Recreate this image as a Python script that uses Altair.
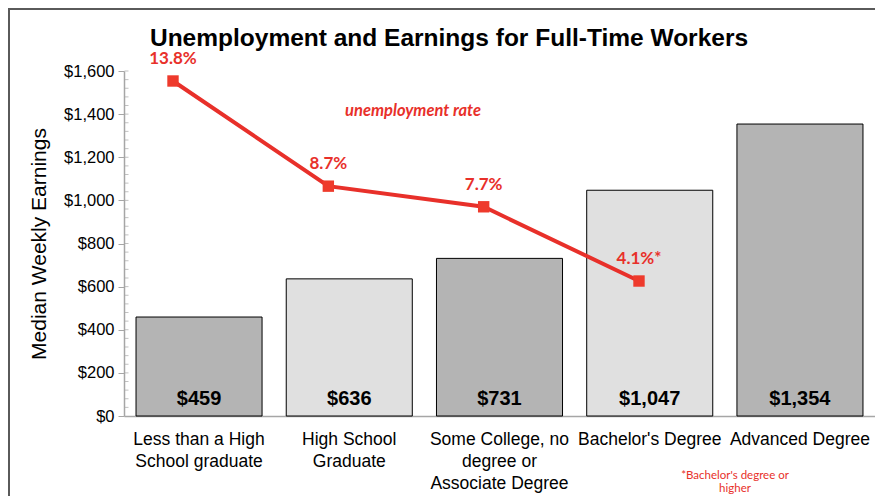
import altair as alt
import pandas as pd

# ---- data ----
categories = [
    "Less than a High\nSchool graduate",
    "High School\nGraduate",
    "Some College, no\ndegree or\nAssociate Degree",
    "Bachelor's Degree",
    "Advanced Degree",
]
earnings = [459, 636, 731, 1047, 1354]
shades = ["dark", "light", "dark", "light", "dark"]

rate_index = [0, 1, 2, 3]
rates = [13.8, 8.7, 7.7, 4.1]
rate_labels = ["13.8%", "8.7%", "7.7%", "4.1%*"]

y_major_ticks = list(range(0, 1601, 200))
y_minor_ticks = list(range(40, 1601, 40))

TITLE = "Unemployment and Earnings for Full-Time Workers"
RED = "#E8302A"
GRAY_AXIS = "#a6a6a6"

bars_df = pd.DataFrame({"category": categories, "earnings": earnings, "shade": shades})
bars_df["zero"] = 0
rate_df = pd.DataFrame({"idx": rate_index, "rate": rates, "label": rate_labels})
minor_df = pd.DataFrame({"v": y_minor_ticks})

EARN_SCALE = alt.Scale(domain=[0, 1600], nice=False, zero=False)
CAT_SCALE = alt.Scale(paddingInner=0.161, paddingOuter=0.08)

x_enc = alt.X(
    "category:N",
    sort=categories,
    scale=CAT_SCALE,
    axis=alt.Axis(
        title=None,
        labelAngle=0,
        labelExpr="split(datum.label, '\\n')",
        labelFont="Liberation Sans",
        labelFontSize=17.5,
        labelColor="#000000",
        labelLineHeight=22,
        labelPadding=14,
        labelBaseline="top",
        ticks=False,
        domainColor=GRAY_AXIS,
        domainWidth=1.5,
        labelLimit=300,
        grid=False,
    ),
)

y_enc = alt.Y(
    "earnings:Q",
    scale=EARN_SCALE,
    axis=alt.Axis(
        title="Median Weekly Earnings",
        titleFont="Liberation Sans",
        titleFontSize=21,
        titleFontWeight="normal",
        titleColor="#000000",
        titlePadding=14,
        values=y_major_ticks,
        format="$,.0f",
        labelFont="Liberation Sans",
        labelFontSize=16.5,
        labelColor="#000000",
        labelPadding=4,
        labelOverlap=False,
        labelFlush=False,
        tickSize=6,
        tickColor=GRAY_AXIS,
        domainColor=GRAY_AXIS,
        domainWidth=1.5,
        grid=False,
    ),
)

bars = alt.Chart(bars_df).mark_bar(stroke="#000000", strokeWidth=1).encode(
    x=x_enc,
    y=y_enc,
    color=alt.Color(
        "shade:N",
        scale=alt.Scale(domain=["dark", "light"], range=["#b4b4b4", "#e0e0e0"]),
        legend=None,
    ),
)

bar_text = alt.Chart(bars_df).mark_text(
    font="Liberation Sans", fontSize=20, fontWeight="bold", color="#000000",
    baseline="alphabetic", dy=-11,
).encode(
    x=alt.X("category:N", sort=categories, scale=CAT_SCALE, axis=None),
    y=alt.Y("zero:Q", scale=EARN_SCALE, axis=None),
    text=alt.Text("earnings:Q", format="$,.0f"),
)

minor_ticks = alt.Chart(minor_df).mark_tick(
    orient="horizontal", color=GRAY_AXIS, thickness=1, size=4
).encode(
    y=alt.Y("v:Q", scale=EARN_SCALE, axis=None),
    x=alt.value(2.5),
)

RATE_X = alt.Scale(domain=[-0.3155, 4.5194], nice=False, zero=False)
RATE_Y = alt.Scale(domain=[-2.446, 14.285], nice=False, zero=False)
lx = alt.X("idx:Q", scale=RATE_X, axis=None)
ly = alt.Y("rate:Q", scale=RATE_Y, axis=None)

line = alt.Chart(rate_df).mark_line(color=RED, strokeWidth=4).encode(x=lx, y=ly)
points = alt.Chart(rate_df).mark_point(
    shape="square", filled=True, size=130, color="#EE3A2C", opacity=1
).encode(x=lx, y=ly)
rate_text = alt.Chart(rate_df).mark_text(
    font="Lato", fontSize=17, fontWeight="bold", color=RED, baseline="middle", dy=-22
).encode(x=lx, y=ly, text="label:N")

title_text = alt.Chart(pd.DataFrame({"t": [TITLE]})).mark_text(
    font="Liberation Sans", fontSize=24.5, fontWeight="bold", color="#000000",
    align="center", baseline="alphabetic",
).encode(x=alt.value(325), y=alt.value(-25), text="t:N")

annot = alt.Chart(pd.DataFrame({"t": ["unemployment rate"]})).mark_text(
    font="Lato", fontSize=16.5, fontWeight="bold", fontStyle="italic", color=RED,
    align="center", baseline="middle",
).encode(x=alt.value(289), y=alt.value(40), text="t:N")

foot = alt.Chart(pd.DataFrame({"t": ["*Bachelor's degree or\nhigher"]})).mark_text(
    font="Lato", fontSize=11.5, color=RED, align="center", baseline="top",
    lineBreak="\n", lineHeight=13,
).encode(x=alt.value(611), y=alt.value(399), text="t:N")

frame = alt.Chart(pd.DataFrame({"a": [0]})).mark_rect(
    fillOpacity=0, stroke="#5a5a5a", strokeWidth=2
).encode(
    x=alt.value(-115), x2=alt.value(780), y=alt.value(-62), y2=alt.value(460)
)

chart = alt.layer(
    bars, bar_text, minor_ticks, line, points, rate_text,
    title_text, annot, foot, frame,
).resolve_scale(
    x="independent", y="independent"
).properties(
    width=751,
    height=345,
    background="white",
    view=alt.ViewBackground(stroke="transparent", strokeWidth=0),
    autosize=alt.AutoSizeParams(type="none"),
    padding={"left": 116, "top": 63, "right": 0, "bottom": 80},
).configure_view(
    strokeWidth=0, stroke="transparent"
).configure_axis(grid=False)

chart.save("out.html", embed_options={"renderer": "svg", "actions": False})
